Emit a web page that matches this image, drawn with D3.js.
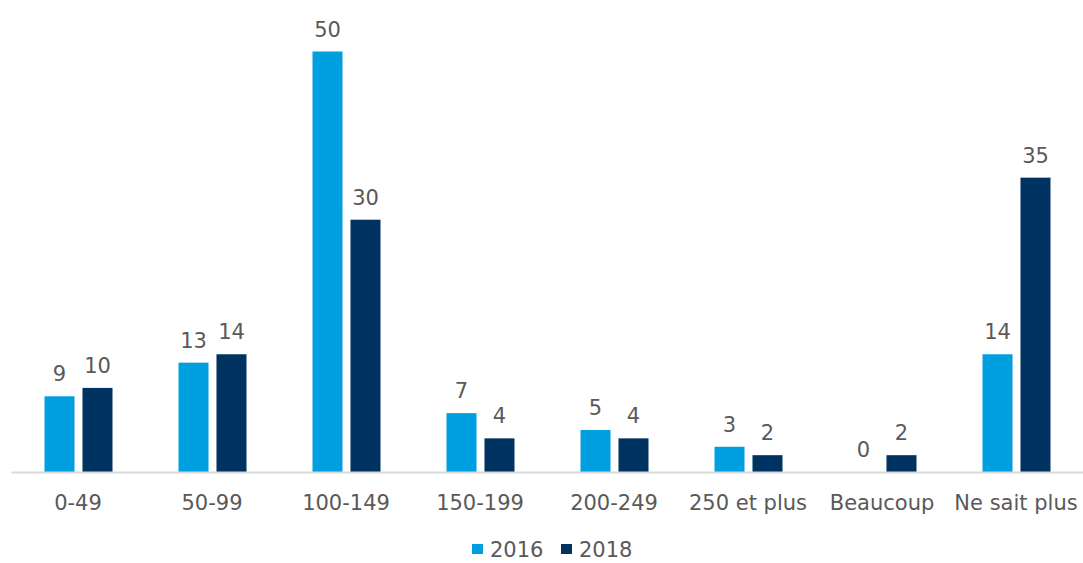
<!DOCTYPE html>
<html>
<head>
<meta charset="utf-8">
<script src="https://cdn.jsdelivr.net/npm/d3@7"></script>
<style>
  body { margin: 0; background: #fff; }
  text { font-family: "DejaVu Sans", Verdana, sans-serif; fill: #595959; }
</style>
</head>
<body>
<div id="chart"></div>
<script>
// data
var categories = ["0-49", "50-99", "100-149", "150-199", "200-249", "250 et plus", "Beaucoup", "Ne sait plus"];
var seriesNames = ["2016", "2018"];
var values2016 = [9, 13, 50, 7, 5, 3, 0, 14];
var values2018 = [10, 14, 30, 4, 4, 2, 2, 35];
var colors = ["#009FE0", "#003262"];

var width = 1083, height = 563;
var baseY = 472, topY = 51.5;
var fontSize = "21px";

var rows = categories.map(function(c, i) {
  return { cat: c, vals: [values2016[i], values2018[i]] };
});

var svg = d3.select("#chart").append("svg")
  .attr("width", width)
  .attr("height", height);

var x0 = d3.scaleBand()
  .domain(categories)
  .range([11, 1083])
  .padding(0);

var x1 = d3.scaleBand()
  .domain(seriesNames)
  .range([33.5, 101.5])
  .paddingInner(0.21);

var y = d3.scaleLinear()
  .domain([0, 50])
  .range([baseY, topY]);

// bars
var groups = svg.append("g")
  .selectAll("g")
  .data(rows)
  .join("g")
  .attr("transform", function(d) { return "translate(" + x0(d.cat) + ",0)"; });

groups.selectAll("rect")
  .data(function(d) { return d.vals.map(function(v, j) { return { s: seriesNames[j], v: v, j: j }; }); })
  .join("rect")
  .attr("x", function(d) { return x1(d.s); })
  .attr("width", x1.bandwidth())
  .attr("y", function(d) { return y(d.v); })
  .attr("height", function(d) { return y(0) - y(d.v); })
  .attr("fill", function(d) { return colors[d.j]; });

// value labels
groups.selectAll("text")
  .data(function(d) { return d.vals.map(function(v, j) { return { s: seriesNames[j], v: v }; }); })
  .join("text")
  .attr("x", function(d) { return x1(d.s) + x1.bandwidth() / 2; })
  .attr("y", function(d) { return y(d.v) - 15; })
  .attr("text-anchor", "middle")
  .style("font-size", fontSize)
  .text(function(d) { return d.v; });

// x axis
var xAxis = svg.append("g")
  .attr("transform", "translate(0," + baseY + ")")
  .call(d3.axisBottom(x0).tickSize(0).tickPadding(23));
xAxis.select(".domain").attr("stroke", "#d9d9d9").attr("stroke-width", 2);
xAxis.selectAll("text")
  .style("font-size", fontSize)
  .style("font-family", "'DejaVu Sans', Verdana, sans-serif")
  .attr("fill", "#595959");

// legend
var legend = svg.append("g")
  .attr("transform", "translate(472,544)");
var legendX = [0, 89];
var items = legend.selectAll("g")
  .data(seriesNames)
  .join("g")
  .attr("transform", function(d, i) { return "translate(" + legendX[i] + ",0)"; });
items.append("rect")
  .attr("width", 11)
  .attr("height", 10)
  .attr("fill", function(d, i) { return colors[i]; });
items.append("text")
  .attr("x", 18)
  .attr("y", 13)
  .style("font-size", fontSize)
  .text(function(d) { return d; });
</script>
</body>
</html>
